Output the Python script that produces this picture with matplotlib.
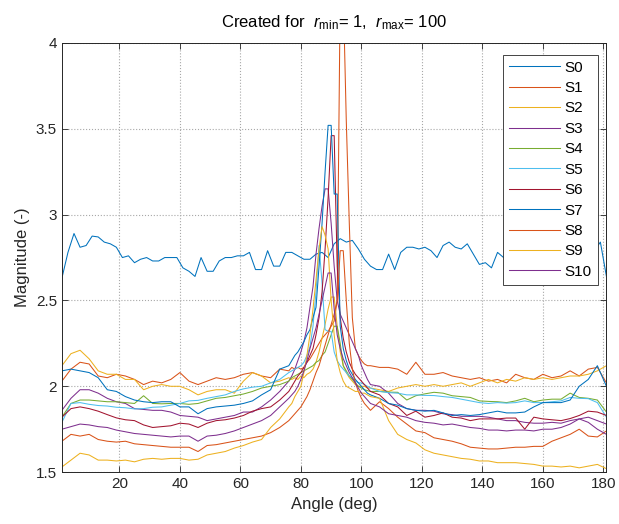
import numpy as np
import matplotlib
matplotlib.use("Agg")
import matplotlib.pyplot as plt

plt.rcParams['font.family'] = ['Liberation Sans', 'DejaVu Sans']
plt.rcParams['mathtext.fontset'] = 'custom'
plt.rcParams['mathtext.rm'] = 'Liberation Sans'
plt.rcParams['mathtext.it'] = 'Liberation Sans:italic'

# angle grids (deg)
angle_s0 = np.arange(1, 182, 2)
angle = np.concatenate([np.arange(1, 77, 3), np.arange(77, 104), np.arange(106, 182, 3)])

labels = ['S0', 'S1', 'S2', 'S3', 'S4', 'S5', 'S6', 'S7', 'S8', 'S9', 'S10']
colors = ['#0072BD', '#D95319', '#EDB120', '#7E2F8E', '#77AC30', '#4DBEEE',
          '#A2142F', '#0072BD', '#D95319', '#EDB120', '#7E2F8E']

s0 = [2.63, 2.78, 2.89, 2.81, 2.82, 2.875, 2.87, 2.84, 2.83, 2.81,
      2.75, 2.76, 2.72, 2.74, 2.75, 2.73, 2.73, 2.75, 2.75, 2.75,
      2.69, 2.67, 2.64, 2.75, 2.67, 2.67, 2.73, 2.75, 2.75, 2.76,
      2.76, 2.78, 2.68, 2.68, 2.79, 2.70, 2.70, 2.78, 2.78, 2.76,
      2.74, 2.74, 2.77, 2.78, 2.75, 2.83, 2.86, 2.84, 2.85, 2.80,
      2.74, 2.70, 2.68, 2.68, 2.77, 2.68, 2.78, 2.81, 2.81, 2.80,
      2.81, 2.79, 2.75, 2.82, 2.84, 2.81, 2.80, 2.83, 2.77, 2.71,
      2.72, 2.69, 2.78, 2.75, 2.73, 2.76, 2.74, 2.72, 2.75, 2.73,
      2.76, 2.74, 2.75, 2.73, 2.76, 2.74, 2.77, 2.80, 2.79, 2.84,
      2.64]

# each series below: 26 points (1..76), 27 points (77..103), 26 points (106..181)
s1 = [2.03, 2.10, 2.14, 2.13, 2.06, 2.05, 2.07, 2.06, 2.04, 2.01, 2.03, 2.02, 2.04,
      2.08, 2.03, 2.01, 2.03, 2.05, 2.04, 2.05, 2.07, 2.08, 2.06, 2.05, 2.10, 2.09,
      2.11, 2.10, 2.11, 2.10, 2.11, 2.14, 2.16, 2.19, 2.22, 2.25, 2.28, 2.30, 2.32, 2.35,
      2.38, 2.50, 4.30, 4.30, 3.55, 2.95, 2.40, 2.22, 2.18, 2.15, 2.13, 2.12, 2.12,
      2.11, 2.11, 2.10, 2.07, 2.14, 2.07, 2.07, 2.08, 2.06, 2.05, 2.04, 2.05, 2.03,
      2.04, 2.02, 2.07, 2.05, 2.04, 2.07, 2.05, 2.06, 2.09, 2.06, 2.10, 2.11, 2.02]
s2 = [2.12, 2.19, 2.21, 2.16, 2.09, 2.07, 2.07, 2.04, 2.04, 1.98, 2.00, 2.01, 2.00,
      2.00, 1.98, 1.95, 1.97, 1.98, 1.98, 1.96, 2.03, 2.08, 2.06, 2.02, 2.03, 2.05,
      2.04, 2.05, 2.04, 2.06, 2.05, 2.07, 2.08, 2.10, 2.14, 2.20, 2.28, 2.36, 2.45, 2.52,
      2.52, 2.35, 2.20, 2.12, 2.08, 2.05, 2.03, 2.01, 2.00, 2.00, 2.00, 1.99, 1.99,
      1.98, 1.97, 1.99, 2.00, 2.01, 2.00, 2.01, 2.00, 2.01, 2.02, 2.00, 2.02, 2.04,
      2.02, 2.04, 2.03, 2.05, 2.04, 2.05, 2.04, 2.05, 2.06, 2.06, 2.07, 2.09, 2.12]
s3 = [1.86, 1.93, 1.98, 1.98, 1.96, 1.93, 1.91, 1.90, 1.87, 1.865, 1.86, 1.86, 1.85,
      1.83, 1.825, 1.82, 1.80, 1.81, 1.82, 1.83, 1.85, 1.85, 1.88, 1.92, 1.97, 2.03,
      2.06, 2.10, 2.15, 2.20, 2.26, 2.34, 2.46, 2.58, 2.77, 2.92, 3.05, 3.15, 3.15, 2.95,
      2.70, 2.50, 2.42, 2.38, 2.34, 2.30, 2.26, 2.22, 2.18, 2.12, 2.08, 2.04, 2.01,
      2.00, 1.96, 1.90, 1.87, 1.86, 1.86, 1.855, 1.84, 1.835, 1.825, 1.825, 1.825, 1.82,
      1.81, 1.80, 1.80, 1.79, 1.785, 1.785, 1.79, 1.785, 1.80, 1.81, 1.82, 1.80, 1.78]
s4 = [1.82, 1.90, 1.92, 1.92, 1.915, 1.91, 1.91, 1.905, 1.90, 1.945, 1.90, 1.898, 1.90,
      1.90, 1.895, 1.90, 1.915, 1.93, 1.935, 1.945, 1.955, 1.97, 1.99, 2.00, 2.01, 2.03,
      2.05, 2.06, 2.07, 2.08, 2.09, 2.10, 2.11, 2.12, 2.14, 2.15, 2.18, 2.20, 2.25, 2.30,
      2.35, 2.35, 2.25, 2.12, 2.09, 2.06, 2.04, 2.02, 2.00, 1.99, 1.98, 1.975, 1.97,
      1.97, 1.966, 1.965, 1.92, 1.945, 1.956, 1.965, 1.96, 1.945, 1.94, 1.935, 1.915, 1.912,
      1.91, 1.905, 1.915, 1.93, 1.91, 1.92, 1.925, 1.925, 1.96, 1.935, 1.93, 1.92, 1.85]
s5 = [1.79, 1.90, 1.905, 1.895, 1.888, 1.885, 1.878, 1.875, 1.868, 1.87, 1.878, 1.88, 1.89,
      1.90, 1.915, 1.918, 1.93, 1.94, 1.95, 1.97, 1.985, 1.995, 2.00, 2.02, 2.04, 2.08,
      2.09, 2.10, 2.11, 2.12, 2.14, 2.18, 2.23, 2.35, 2.55, 2.82, 2.60, 2.33, 2.32, 2.32,
      2.20, 2.15, 2.12, 2.10, 2.08, 2.06, 2.05, 2.03, 2.02, 2.02, 2.01, 2.00, 1.99,
      1.97, 1.963, 1.96, 1.95, 1.95, 1.947, 1.946, 1.94, 1.935, 1.925, 1.915, 1.905, 1.90,
      1.905, 1.902, 1.905, 1.915, 1.905, 1.905, 1.91, 1.915, 1.935, 1.93, 1.928, 1.905, 1.82]
s6 = [1.82, 1.87, 1.88, 1.87, 1.855, 1.835, 1.816, 1.805, 1.80, 1.775, 1.76, 1.765, 1.77,
      1.785, 1.78, 1.76, 1.785, 1.80, 1.805, 1.815, 1.83, 1.855, 1.87, 1.88, 1.92, 1.97,
      2.00, 2.03, 2.06, 2.08, 2.11, 2.14, 2.18, 2.22, 2.30, 2.40, 2.55, 2.80, 3.10, 3.46,
      3.46, 2.70, 2.40, 2.28, 2.20, 2.14, 2.10, 2.07, 2.05, 2.03, 2.01, 1.99, 1.97,
      1.95, 1.90, 1.88, 1.83, 1.855, 1.82, 1.83, 1.845, 1.82, 1.815, 1.80, 1.81, 1.81,
      1.81, 1.815, 1.815, 1.75, 1.82, 1.81, 1.805, 1.80, 1.812, 1.83, 1.855, 1.85, 1.83]
s7 = [2.09, 2.10, 2.09, 2.08, 2.05, 1.98, 1.97, 1.94, 1.92, 1.91, 1.905, 1.91, 1.91,
      1.88, 1.88, 1.84, 1.87, 1.88, 1.885, 1.89, 1.90, 1.915, 1.95, 1.98, 2.10, 2.12,
      2.15, 2.18, 2.20, 2.23, 2.26, 2.30, 2.33, 2.40, 2.46, 2.70, 2.95, 3.25, 3.52, 3.52,
      3.12, 3.12, 2.35, 2.22, 2.15, 2.10, 2.07, 2.04, 2.02, 2.00, 1.98, 1.96, 1.95,
      1.93, 1.90, 1.89, 1.87, 1.86, 1.855, 1.86, 1.845, 1.83, 1.835, 1.83, 1.835, 1.845,
      1.855, 1.845, 1.845, 1.85, 1.88, 1.905, 1.905, 1.905, 1.92, 2.00, 2.04, 2.12, 2.00]
s8 = [1.68, 1.72, 1.71, 1.72, 1.69, 1.68, 1.675, 1.68, 1.665, 1.66, 1.655, 1.65, 1.645,
      1.645, 1.645, 1.62, 1.655, 1.66, 1.67, 1.68, 1.69, 1.70, 1.71, 1.73, 1.76, 1.80,
      1.82, 1.84, 1.86, 1.88, 1.91, 1.94, 1.98, 2.03, 2.08, 2.12, 2.18, 2.24, 2.30, 2.36,
      2.42, 2.50, 2.79, 2.79, 2.50, 2.25, 2.10, 2.02, 1.97, 1.93, 1.90, 1.88, 1.86,
      1.91, 1.87, 1.82, 1.78, 1.74, 1.73, 1.70, 1.69, 1.68, 1.665, 1.645, 1.64, 1.635,
      1.635, 1.64, 1.645, 1.645, 1.65, 1.65, 1.68, 1.70, 1.72, 1.75, 1.71, 1.705, 1.74]
s9 = [1.53, 1.57, 1.61, 1.60, 1.57, 1.57, 1.565, 1.57, 1.56, 1.575, 1.58, 1.575, 1.58,
      1.58, 1.57, 1.575, 1.60, 1.61, 1.62, 1.64, 1.655, 1.675, 1.69, 1.76, 1.81, 1.88,
      1.90, 1.94, 1.97, 2.00, 2.08, 2.18, 2.30, 2.45, 2.62, 2.80, 2.93, 2.88, 2.80, 2.50,
      2.30, 2.15, 2.08, 2.03, 2.00, 1.99, 1.98, 1.97, 1.97, 1.96, 1.96, 1.95, 1.94,
      1.93, 1.80, 1.72, 1.69, 1.67, 1.63, 1.61, 1.60, 1.59, 1.58, 1.575, 1.565, 1.565,
      1.555, 1.555, 1.555, 1.55, 1.545, 1.535, 1.535, 1.53, 1.535, 1.525, 1.535, 1.545, 1.52]
s10 = [1.75, 1.765, 1.78, 1.775, 1.765, 1.76, 1.745, 1.735, 1.725, 1.72, 1.715, 1.71, 1.705,
       1.71, 1.71, 1.68, 1.71, 1.715, 1.725, 1.74, 1.76, 1.78, 1.80, 1.83, 1.88, 1.93,
       1.95, 1.97, 2.00, 2.04, 2.09, 2.15, 2.22, 2.28, 2.34, 2.42, 2.50, 2.58, 2.66, 2.66,
       2.45, 2.30, 2.22, 2.16, 2.12, 2.08, 2.05, 2.02, 1.99, 1.96, 1.94, 1.92, 1.90,
       1.88, 1.84, 1.83, 1.82, 1.80, 1.79, 1.785, 1.775, 1.78, 1.77, 1.76, 1.755, 1.745,
       1.745, 1.74, 1.745, 1.745, 1.74, 1.75, 1.75, 1.76, 1.78, 1.81, 1.79, 1.75, 1.72]

series = [s0, s1, s2, s3, s4, s5, s6, s7, s8, s9, s10]

fig = plt.figure(figsize=(6.19, 5.24), dpi=100)
ax = fig.add_axes([0.100, 0.099, 0.8797, 0.819])

for i, y in enumerate(series):
    x = angle_s0 if i == 0 else angle
    ax.plot(x, y, color=colors[i], linewidth=0.75, label=labels[i])

ax.set_xlim(1, 181)
ax.set_ylim(1.5, 4)
ax.set_xticks(np.arange(20, 181, 20))
ax.set_yticks([1.5, 2, 2.5, 3, 3.5, 4])
ax.set_yticklabels(['1.5', '2', '2.5', '3', '3.5', '4'])
ax.tick_params(direction='in', top=True, right=True, labelsize=11, length=4,
               width=0.6, color='#262626', labelcolor='#262626')
ax.grid(True, color='#a8a8a8', linestyle=':', linewidth=0.8)
for sp in ax.spines.values():
    sp.set_color('#262626')
    sp.set_linewidth(0.7)

ax.set_xlabel('Angle (deg)', fontsize=12, color='#262626')
ax.set_ylabel('Magnitude (-)', fontsize=12, color='#262626')
ax.set_title(r'Created for  $r_{\mathrm{min}}$= 1,  $r_{\mathrm{max}}$= 100',
             fontsize=12, pad=11)

leg = ax.legend(loc='upper right', bbox_to_anchor=(0.984, 0.973), borderaxespad=0,
                fontsize=11, handlelength=3.3, handletextpad=0.3, labelspacing=0.42,
                fancybox=False, framealpha=1, edgecolor='#262626', borderpad=0.4)
leg.get_frame().set_linewidth(0.6)

fig.savefig('out.png', dpi=100)
